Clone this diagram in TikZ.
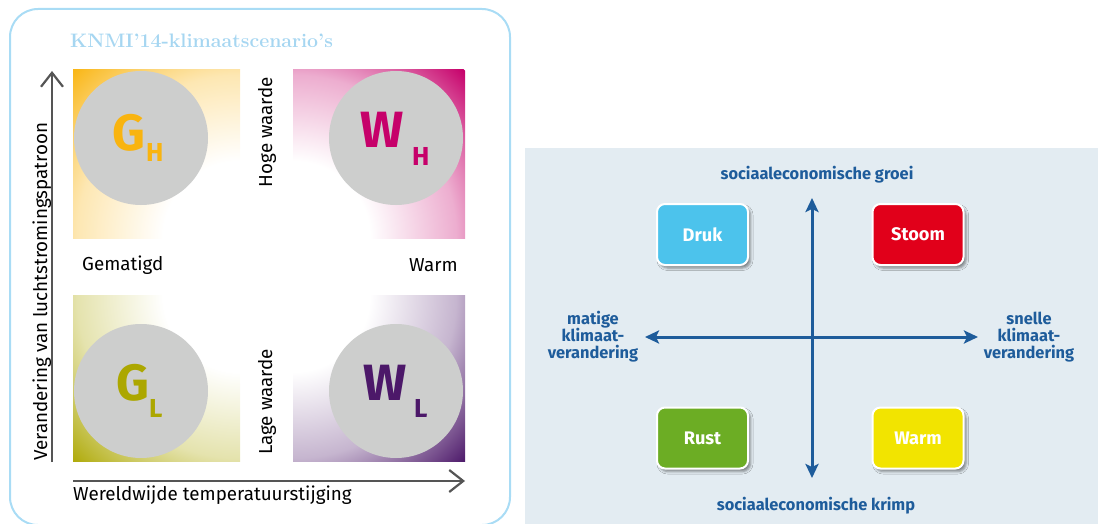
\documentclass[tikz,border=0pt]{standalone}
\usepackage{fontspec}
\newfontfamily\panelsans{Fira Sans}
\usetikzlibrary{arrows.meta,shadows.blur}

% quadrant colours
\definecolor{ghc}{HTML}{F9B40F}
\definecolor{whc}{HTML}{C6006A}
\definecolor{glc}{HTML}{ACA700}
\definecolor{wlc}{HTML}{4C1869}
\definecolor{discgray}{HTML}{CDCECD}
\definecolor{axisgray}{HTML}{555555}
\definecolor{framec}{HTML}{A9DCF5}
\definecolor{titlec}{HTML}{A6D6F1}
% scenario panel colours
\definecolor{panelbg}{HTML}{E3ECF2}
\definecolor{navy}{HTML}{1E5C9B}
\definecolor{drukc}{HTML}{4CC3EC}
\definecolor{stoomc}{HTML}{E1001A}
\definecolor{rustc}{HTML}{6CAD24}
\definecolor{warmc}{HTML}{F2E400}

% radial fades: white around the centre of the diagram, full colour at the outer corner
% (TikZ maps 25bp of a radial shading onto the radius of the shaded circle)
\pgfdeclareradialshading{ghfade}{\pgfpoint{0bp}{0bp}}{color(0bp)=(white); color(8bp)=(white); color(17bp)=(ghc!32!white); color(25bp)=(ghc); color(50bp)=(ghc)}
\pgfdeclareradialshading{whfade}{\pgfpoint{0bp}{0bp}}{color(0bp)=(white); color(8bp)=(white); color(17bp)=(whc!32!white); color(25bp)=(whc); color(50bp)=(whc)}
\pgfdeclareradialshading{glfade}{\pgfpoint{0bp}{0bp}}{color(0bp)=(white); color(8bp)=(white); color(17bp)=(glc!32!white); color(25bp)=(glc); color(50bp)=(glc)}
\pgfdeclareradialshading{wlfade}{\pgfpoint{0bp}{0bp}}{color(0bp)=(white); color(8bp)=(white); color(17bp)=(wlc!32!white); color(25bp)=(wlc); color(50bp)=(wlc)}

\begin{document}
\begin{tikzpicture}[x=1pt,y=-1pt,
  frame/.style={draw=framec, line width=2pt, rounded corners=28pt},
  titletext/.style={text=titlec, font=\fontsize{19.5}{22}\selectfont\bfseries, inner sep=0pt},
  disc/.style={circle, fill=discgray, minimum size=134pt, inner sep=0pt},
  bigletter/.style={inner sep=0pt, font=\panelsans\fontsize{51}{51}\selectfont\bfseries},
  subletter/.style={inner sep=0pt, font=\panelsans\fontsize{26}{26}\selectfont\bfseries},
  axislabel/.style={inner sep=0pt, text=black, font=\panelsans\fontsize{18.8}{22}\selectfont},
  grayaxis/.style={draw=axisgray, line width=2.4pt, -{Straight Barb[length=14pt, width=22pt, line width=2.2pt]}},
  bluearrow/.style={draw=navy, line width=3pt, {Stealth[length=14pt, width=13pt, inset=3pt]}-{Stealth[length=14pt, width=13pt, inset=3pt]}},
  bluelabel/.style={text=navy, align=center, inner sep=0pt, font=\panelsans\fontsize{16.4}{17}\selectfont\bfseries},
  scenario/.style={draw=white, line width=2pt, rounded corners=8pt, minimum width=91pt, minimum height=61pt,
    text=white, font=\panelsans\fontsize{18.2}{20}\selectfont\bfseries,
    blur shadow={shadow xshift=2.5pt, shadow yshift=-3pt, shadow blur radius=2.5pt, shadow opacity=45}},
]
\useasboundingbox (0,0) rectangle (1098,524);

% ---------- KNMI'14 scenarios ----------
\draw[frame] (10,9) rectangle (510,525);
\node[titletext, anchor=base west] (title) at (70,48) {KNMI’14-klimaat\-scenario’s};

% shaded quadrants
\begin{scope}
  \clip (73,70) rectangle (240,238);
  \shade[shading=ghfade] (240,238) circle[radius=240pt];
\end{scope}
\begin{scope}
  \clip (293,70) rectangle (465,238);
  \shade[shading=whfade] (293,238) circle[radius=240pt];
\end{scope}
\begin{scope}
  \clip (73,295) rectangle (240,461);
  \shade[shading=glfade] (240,295) circle[radius=240pt];
\end{scope}
\begin{scope}
  \clip (293,295) rectangle (465,461);
  \shade[shading=wlfade] (293,295) circle[radius=240pt];
\end{scope}

% scenario discs
\node[disc] (gh) at (141,138) {};
\node[disc] (wh) at (396,138) {};
\node[disc] (gl) at (141,391) {};
\node[disc] (wl) at (396,391) {};

\node[bigletter, text=ghc, anchor=base west] (ghG) at (112,150) {G};
\node[subletter, text=ghc, anchor=base west] (ghH) at (146,161) {H};
\node[bigletter, text=whc, anchor=base west] (whW) at (360,148) {W};
\node[subletter, text=whc, anchor=base west] (whH) at (412,166) {H};
\node[bigletter, text=glc, anchor=base west] (glG) at (116,400) {G};
\node[subletter, text=glc, anchor=base west] (glL) at (149,417) {L};
\node[bigletter, text=wlc, anchor=base west] (wlW) at (363,400) {W};
\node[subletter, text=wlc, anchor=base west] (wlL) at (414,417) {L};

% quadrant labels
\node[axislabel, rotate=90] (hoge) at (267,132) {Hoge waarde};
\node[axislabel, rotate=90] (lage) at (267,402) {Lage waarde};
\node[axislabel, anchor=west] (gematigd) at (82,265) {Gematigd};
\node[axislabel, anchor=east] (warmlbl) at (458,265) {Warm};

% axes
\coordinate (vaxFrom) at (52,462);
\coordinate (vaxTo) at (52,71);
\coordinate (haxFrom) at (73,481);
\coordinate (haxTo) at (465,481);
\draw[grayaxis] (vaxFrom) -- (vaxTo);
\draw[grayaxis] (haxFrom) -- (haxTo);
\node[axislabel, rotate=90, anchor=base west] (vlabel) at (47,461) {Verandering van luchtstromingspatroon};
\node[axislabel, anchor=base west] (hlabel) at (73,500) {Wereldwijde temperatuurstijging};

% ---------- socio-economic scenarios ----------
\fill[panelbg] (525,148) rectangle (1098,524);

\coordinate (up) at (812,198);
\coordinate (down) at (812,478);
\coordinate (left) at (645,337);
\coordinate (right) at (978,337);
\draw[bluearrow] (down) -- (up);
\draw[bluearrow] (left) -- (right);

\node[bluelabel] (groei) at (817,175) {sociaaleconomische groei};
\node[bluelabel] (krimp) at (816,506) {sociaaleconomische krimp};
\node[bluelabel] (matig) at (593,337) {matige\\klimaat-\\verandering};
\node[bluelabel] (snel) at (1029,337) {snelle\\klimaat-\\verandering};

\node[scenario, fill=drukc] (druk) at (702.5,234.5) {Druk};
\node[scenario, fill=stoomc] (stoom) at (918,234.5) {Stoom};
\node[scenario, fill=rustc] (rust) at (702.5,438) {Rust};
\node[scenario, fill=warmc] (warm) at (918,438) {Warm};
\end{tikzpicture}
\end{document}
